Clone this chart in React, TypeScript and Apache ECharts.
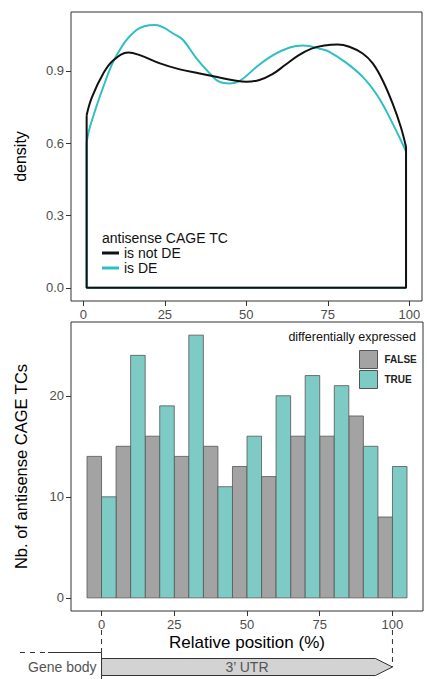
import React, { useEffect, useRef } from "react";
import * as echarts from "echarts";

const FONT = "'Liberation Sans', Arial, Helvetica, sans-serif";

// Density panel
const densityXTicks = [0, 25, 50, 75, 100];
const densityYTicks = [0, 0.3, 0.6, 0.9];
const densityLegendTitle = "antisense CAGE TC";
const densityLegend = ["is not DE", "is DE"];
const notDEDensity: [number, number][] = [
  [1.0, 0.716], [2.6, 0.79], [6.1, 0.889], [9.2, 0.944], [13.8, 0.976], [17.3, 0.965],
  [23.5, 0.931], [29.6, 0.906], [35.7, 0.889], [41.8, 0.872], [46.0, 0.861], [50.0, 0.855],
  [54.0, 0.862], [58.0, 0.886], [62.0, 0.925], [66.0, 0.964], [70.0, 0.992], [74.0, 1.005],
  [78.0, 1.009], [81.6, 1.0], [85.7, 0.972], [88.8, 0.931], [91.8, 0.861], [94.9, 0.764],
  [97.4, 0.667], [99.0, 0.584],
];
const isDEDensity: [number, number][] = [
  [1.0, 0.605], [2.0, 0.667], [6.1, 0.833], [10.2, 0.965], [16.3, 1.069], [21.9, 1.09],
  [28.4, 1.048], [30.6, 1.028], [34.7, 0.952], [38.8, 0.889], [41.8, 0.854], [44.9, 0.848],
  [48.0, 0.858], [53.1, 0.916], [58.2, 0.965], [63.3, 0.997], [67.3, 1.005], [73.4, 0.989],
  [75.5, 0.979], [80.6, 0.934], [85.7, 0.875], [89.8, 0.806], [92.8, 0.737], [95.9, 0.654],
  [98.4, 0.584], [99.0, 0.565],
];

// Histogram panel
const binCenters = [0, 10, 20, 30, 40, 50, 60, 70, 80, 90, 100];
const falseCounts = [14, 15, 16, 14, 15, 13, 12, 16, 16, 18, 8];
const trueCounts = [10, 24, 19, 26, 11, 16, 20, 22, 21, 15, 13];
const histXTicks = [0, 25, 50, 75, 100];
const histYTicks = [0, 10, 20];
const histLegendTitle = "differentially expressed";
const histLegend = ["FALSE", "TRUE"];

const BLACK = "#111111";
const CYAN = "#2fbfc3";
const GREY_BAR = "#a3a3a3";
const TEAL_BAR = "#7ecbc6";

function outline(d: [number, number][]) {
  const a = d[0];
  const b = d[d.length - 1];
  return [[a[0], a[1]], [a[0], 0], [b[0], 0], [b[0], b[1]]];
}

function barSeries(name: string, counts: number[], color: string, side: number) {
  return {
    type: "custom",
    name,
    xAxisIndex: 1,
    yAxisIndex: 1,
    data: binCenters.map((c, i) => [c, counts[i]]),
    encode: { x: 0, y: 1 },
    itemStyle: { color },
    renderItem: (params: any, api: any) => {
      const c = api.value(0);
      const v = api.value(1);
      const xa = side < 0 ? c - 5 : c;
      const xb = side < 0 ? c : c + 5;
      const p0 = api.coord([xa, v]);
      const p1 = api.coord([xb, 0]);
      return {
        type: "rect",
        shape: { x: p0[0], y: p0[1], width: p1[0] - p0[0], height: p1[1] - p0[1] },
        style: { fill: color, stroke: "#555555", lineWidth: 0.8 },
      };
    },
  };
}

export default function App() {
  const ref = useRef<HTMLDivElement>(null);
  useEffect(() => {
    if (!ref.current) return;
    const chart = echarts.init(ref.current, null, { renderer: "svg" });
    const tickLabel = { color: "#4d4d4d", fontSize: 13, fontFamily: FONT };
    const tick = { length: 5, lineStyle: { color: "#333333", width: 1 } };
    const noLine = { show: false, onZero: false };
    const option: any = {
      animation: false,
      backgroundColor: "#ffffff",
      textStyle: { fontFamily: FONT },
      grid: [
        { left: 71, top: 12, width: 351, height: 289, show: true, borderColor: "#333333", borderWidth: 1, backgroundColor: "#ffffff" },
        { left: 71, top: 322, width: 352, height: 289, show: true, borderColor: "#333333", borderWidth: 1, backgroundColor: "#ffffff" },
      ],
      xAxis: [
        {
          type: "value", gridIndex: 0, min: -3.8, max: 103.9,
          axisLine: noLine, splitLine: { show: false },
          axisTick: { ...tick, customValues: densityXTicks },
          axisLabel: { ...tickLabel, margin: 7, customValues: densityXTicks },
        },
        {
          type: "value", gridIndex: 1, min: -10.5, max: 110.5,
          axisLine: noLine, splitLine: { show: false },
          axisTick: { ...tick, customValues: histXTicks },
          axisLabel: { ...tickLabel, margin: 7, customValues: histXTicks },
          name: "Relative position (%)", nameLocation: "middle", nameGap: 23,
          nameTextStyle: { color: "#000000", fontSize: 17, fontFamily: FONT },
        },
      ],
      yAxis: [
        {
          type: "value", gridIndex: 0, min: -0.0545, max: 1.144,
          axisLine: noLine, splitLine: { show: false },
          axisTick: { ...tick, customValues: densityYTicks },
          axisLabel: { ...tickLabel, margin: 7, customValues: densityYTicks, formatter: (v: number) => v.toFixed(1) },
          name: "density", nameLocation: "middle", nameGap: 43,
          nameTextStyle: { color: "#000000", fontSize: 16, fontFamily: FONT },
        },
        {
          type: "value", gridIndex: 1, min: -1.3, max: 27.3,
          axisLine: noLine, splitLine: { show: false },
          axisTick: { ...tick, customValues: histYTicks },
          axisLabel: { ...tickLabel, margin: 7, customValues: histYTicks },
          name: "Nb. of antisense CAGE TCs", nameLocation: "middle", nameGap: 42,
          nameTextStyle: { color: "#000000", fontSize: 16.5, fontFamily: FONT },
        },
      ],
      legend: [
        {
          orient: "vertical", left: 102, top: 246, padding: 0, itemGap: 1,
          itemWidth: 17, itemHeight: 3, icon: "rect", selectedMode: false,
          data: densityLegend,
          textStyle: { fontSize: 14, color: "#111111", fontFamily: FONT, lineHeight: 14 },
        },
        {
          orient: "vertical", left: 359, top: 350, padding: 0, itemGap: 1,
          itemWidth: 18, itemHeight: 18, icon: "rect", selectedMode: false,
          data: histLegend,
          itemStyle: { borderColor: "#555555", borderWidth: 1 },
          textStyle: { fontSize: 10, fontWeight: "bold", color: "#222222", fontFamily: FONT, padding: [0, 0, 0, 2] },
        },
      ],
      series: [
        {
          type: "line", name: "is DE", xAxisIndex: 0, yAxisIndex: 0, data: outline(isDEDensity),
          showSymbol: false, lineStyle: { color: CYAN, width: 2 }, itemStyle: { color: CYAN },
        },
        {
          type: "line", name: "is DE", xAxisIndex: 0, yAxisIndex: 0, data: isDEDensity, smooth: 0.4,
          showSymbol: false, lineStyle: { color: CYAN, width: 2 }, itemStyle: { color: CYAN },
        },
        {
          type: "line", name: "is not DE", xAxisIndex: 0, yAxisIndex: 0, data: outline(notDEDensity),
          showSymbol: false, lineStyle: { color: BLACK, width: 2 }, itemStyle: { color: BLACK },
        },
        {
          type: "line", name: "is not DE", xAxisIndex: 0, yAxisIndex: 0, data: notDEDensity, smooth: 0.4,
          showSymbol: false, lineStyle: { color: BLACK, width: 2 }, itemStyle: { color: BLACK },
        },
        barSeries("FALSE", falseCounts, GREY_BAR, -1),
        barSeries("TRUE", trueCounts, TEAL_BAR, 1),
      ],
    };
    chart.setOption(option);

    const x0 = chart.convertToPixel({ xAxisIndex: 1 }, 0) as number;
    const x100 = chart.convertToPixel({ xAxisIndex: 1 }, 100) as number;
    const yLine = 652.5;
    const yTop = 658.5;
    const yBot = 675.5;
    const yMid = (yTop + yBot) / 2;
    chart.setOption({
      graphic: [
        {
          type: "text", left: 102, top: 231,
          style: { text: densityLegendTitle, fontSize: 14, fill: "#111111", fontFamily: FONT },
        },
        {
          type: "text", right: 11, top: 330,
          style: { text: histLegendTitle, fontSize: 12.5, fill: "#111111", fontFamily: FONT, fontWeight: 500 },
        },
        {
          type: "line", shape: { x1: x0, y1: 630, x2: x0, y2: yLine },
          style: { stroke: "#333333", lineWidth: 1, lineDash: [5, 4] },
        },
        {
          type: "line", shape: { x1: x100, y1: 630, x2: x100, y2: yMid },
          style: { stroke: "#333333", lineWidth: 1, lineDash: [5, 4] },
        },
        {
          type: "line", shape: { x1: 20, y1: yLine, x2: 48, y2: yLine },
          style: { stroke: "#333333", lineWidth: 1, lineDash: [5, 5] },
        },
        {
          type: "polyline", shape: { points: [[48, yLine], [x0, yLine], [x0, 679]] },
          style: { stroke: "#333333", lineWidth: 1, fill: "none" },
        },
        {
          type: "polygon",
          shape: { points: [[x0, yTop], [x100 - 17, yTop], [x100, yMid], [x100 - 17, yBot], [x0, yBot]] },
          style: { fill: "#d3d3d3", stroke: "#333333", lineWidth: 1 },
        },
        {
          type: "text", x: (x0 + x100) / 2, y: yMid,
          style: { text: "3\u2019 UTR", fontSize: 14, fill: "#555555", fontFamily: FONT, align: "center", verticalAlign: "middle" },
        },
        {
          type: "text", x: x0 - 5, y: yMid,
          style: { text: "Gene body", fontSize: 14, fill: "#555555", fontFamily: FONT, align: "right", verticalAlign: "middle" },
        },
      ],
    });
    return () => chart.dispose();
  }, []);
  return (
    <div
      ref={ref}
      style={{ position: "fixed", left: 0, top: 0, width: 427, height: 679, background: "#ffffff" }}
    />
  );
}
